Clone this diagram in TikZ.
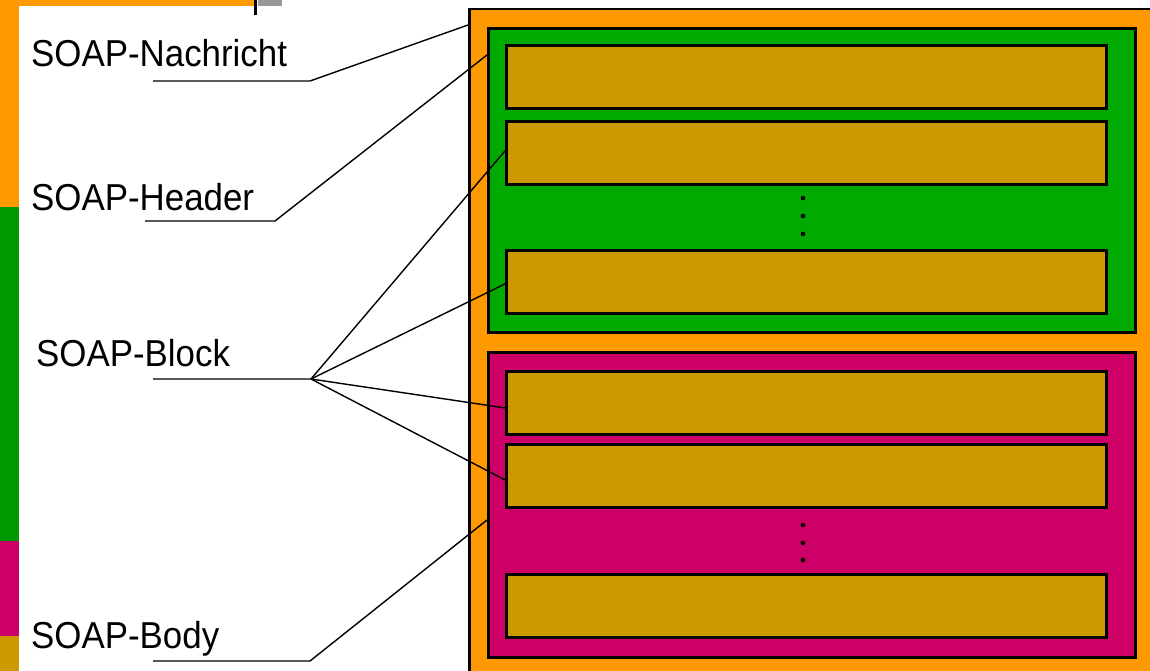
\documentclass[tikz,border=0pt]{standalone}
\usepackage{fontspec}
\setmainfont{Liberation Sans}[FakeStretch=0.93]
\usepackage{xcolor}
\usepackage{tikz}
\definecolor{msgorange}{RGB}{255,153,0}
\definecolor{hdrgreen}{RGB}{0,170,0}
\definecolor{stripgreen}{RGB}{0,153,0}
\definecolor{bodymagenta}{RGB}{204,0,102}
\definecolor{blkgold}{RGB}{204,153,0}
\definecolor{tabgray}{RGB}{153,153,153}

\begin{document}
\begin{tikzpicture}[x=1pt, y=-1pt,
  frame/.style={draw=black, line width=2.8pt, inner sep=0pt, anchor=north west},
  blk/.style={frame, fill=blkgold, minimum width=600pt, minimum height=63pt},
  lbl/.style={anchor=base west, inner sep=0pt, font=\fontsize{37.5}{40}\selectfont},
  con/.style={draw=black, line width=1.4pt}]
\useasboundingbox (0,0) rectangle (1150,671);
\clip (0,0) rectangle (1150,671);
\fill[white] (0,0) rectangle (1150,671);
% left strip
\fill[msgorange] (0,0) rectangle (254,6);
\fill[black] (254,0) rectangle (257,15);
\fill[tabgray] (258,0) rectangle (282,6);
\fill[msgorange] (0,0) rectangle (19,207);
\fill[stripgreen] (0,207) rectangle (19,541);
\fill[bodymagenta] (0,541) rectangle (19,636);
\fill[blkgold] (0,636) rectangle (19,671);
% message
\node[frame, line width=2.5pt, fill=msgorange, minimum width=720pt, minimum height=700pt] (msg) at (468,8) {};
\node[frame, fill=hdrgreen, minimum width=647pt, minimum height=304pt] (hdr) at (487,27) {};
\node[frame, fill=bodymagenta, minimum width=647pt, minimum height=305pt] (body) at (487,351) {};
\node[blk] (blkA) at (505,44) {};
\node[blk] (blkB) at (505,120) {};
\node[blk] (blkC) at (505,249) {};
\node[blk] (blkD) at (505,370) {};
\node[blk] (blkE) at (505,443) {};
\node[blk] (blkF) at (505,573) {};
\foreach \y in {198,216,234,525,543,560}
  \fill[black] (803,\y) circle (2.3pt);
% labels
\node[lbl] (lNachricht) at (31,67) {SOAP-Nachricht};
\node[lbl] (lHeader) at (31,210) {SOAP-Header};
\node[lbl] (lBlock) at (36,366) {SOAP-Block};
\node[lbl] (lBody) at (31,648) {SOAP-Body};
\coordinate (nStart) at (153,81);
\coordinate (nKnee) at (310,81);
\coordinate (hStart) at (145,221);
\coordinate (hKnee) at (275,221);
\coordinate (bStart) at (153,379);
\coordinate (bKnee) at (311,379);
\coordinate (yStart) at (153,661);
\coordinate (yKnee) at (310,661);
% connectors
\draw[con] (nStart) -- (nKnee) -- ([yshift=-17pt]msg.north west);
\draw[con] (hStart) -- (hKnee) -- ([yshift=-28pt]hdr.north west);
\draw[con] (bStart) -- (bKnee) -- ([yshift=2pt]blkB.west);
\draw[con] (bKnee) -- ([yshift=-2pt]blkC.west);
\draw[con] (bKnee) -- ([yshift=-5pt]blkD.west);
\draw[con] (bKnee) -- ([yshift=-4pt]blkE.west);
\draw[con] (yStart) -- (yKnee) -- ([yshift=-169pt]body.north west);
\end{tikzpicture}
\end{document}
